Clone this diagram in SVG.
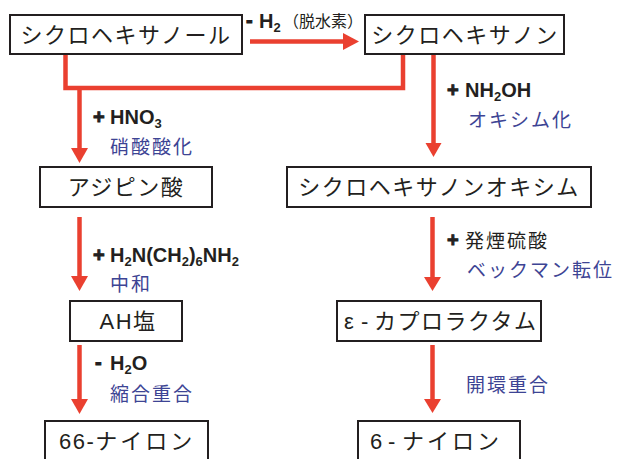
<svg xmlns="http://www.w3.org/2000/svg" width="618" height="459" viewBox="0 0 618 459">
<style>
.box{fill:#fff;stroke:#231f20;stroke-width:2}
.nt{font-family:"Liberation Sans","Noto Sans CJK JP",sans-serif;font-size:22px;fill:#231f20;text-anchor:middle;letter-spacing:1.5px}
.ns{text-anchor:start}
.bl{font-family:"Liberation Sans","Noto Sans CJK JP",sans-serif;font-size:20px;font-weight:bold;fill:#231f20}
.pl{stroke:#231f20;stroke-width:0.9}
.sub{font-size:13px}
.jp{font-family:"Noto Sans CJK JP",sans-serif;font-size:19px;fill:#231f20;letter-spacing:2px}
.blue{fill:#3d4494}
.small{font-family:"Noto Sans CJK JP",sans-serif;font-size:16px;fill:#231f20}
.ln{fill:none;stroke:#ea4030;stroke-width:4.5}
.ah{fill:#ea4030}
</style>
<g id="connectors">
<line class="ln" x1="250" y1="41.5" x2="345" y2="41.5"/>
<polygon class="ah" points="343,33 359,41.5 343,50"/>
<path class="ln" d="M65.5,54 V88 H403 V54"/>
<line class="ln" x1="79.5" y1="88" x2="79.5" y2="150"/>
<polygon class="ah" points="71,148 88,148 79.5,163"/>
<line class="ln" x1="433.5" y1="54" x2="433.5" y2="145"/>
<polygon class="ah" points="425.5,143 441.5,143 433.5,157"/>
<line class="ln" x1="79.5" y1="217" x2="79.5" y2="278"/>
<polygon class="ah" points="71,276 88,276 79.5,291"/>
<line class="ln" x1="79.5" y1="345" x2="79.5" y2="401"/>
<polygon class="ah" points="71,399 88,399 79.5,414"/>
<line class="ln" x1="432.5" y1="217" x2="432.5" y2="279"/>
<polygon class="ah" points="424,277 441,277 432.5,291"/>
<line class="ln" x1="432.5" y1="345" x2="432.5" y2="401"/>
<polygon class="ah" points="424,399 441,399 432.5,413"/>
</g>
<g id="labels">
<text class="bl pl" x="246" y="27">-</text>
<text class="bl" x="259" y="28">H<tspan class="sub" dy="4">2</tspan></text>
<text class="small" x="283" y="27">（脱水素）</text>
<text class="bl pl" x="93" y="124">+</text>
<text class="bl" x="110" y="124">HNO<tspan class="sub" dy="4">3</tspan></text>
<text class="jp blue" x="110" y="153.5">硝酸酸化</text>
<text class="bl pl" x="447" y="97">+</text>
<text class="bl" x="465" y="97">NH<tspan class="sub" dy="4">2</tspan><tspan dy="-4">OH</tspan></text>
<text class="jp blue" x="468" y="126.5">オキシム化</text>
<text class="bl pl" x="93" y="262">+</text>
<text class="bl" x="110" y="262">H<tspan class="sub" dy="4">2</tspan><tspan dy="-4">N(CH</tspan><tspan class="sub" dy="4">2</tspan><tspan dy="-4">)</tspan><tspan class="sub" dy="4">6</tspan><tspan dy="-4">NH</tspan><tspan class="sub" dy="4">2</tspan></text>
<text class="jp blue" x="110" y="290.5">中和</text>
<text class="bl pl" x="95" y="369">-</text>
<text class="bl" x="110" y="370">H<tspan class="sub" dy="4">2</tspan><tspan dy="-4">O</tspan></text>
<text class="jp blue" x="110" y="401">縮合重合</text>
<text class="bl pl" x="447" y="247">+</text>
<text class="jp" x="465" y="247.5">発煙硫酸</text>
<text class="jp blue" x="467" y="277">ベックマン転位</text>
<text class="jp blue" x="466" y="391.5">開環重合</text>
</g>
<g id="n1"><rect class="box" x="10" y="15" width="232" height="39"/><text class="nt" x="126" y="42.5">シクロヘキサノール</text></g>
<g id="n2"><rect class="box" x="365" y="15" width="199" height="39"/><text class="nt" x="465" y="42.5">シクロヘキサノン</text></g>
<g id="n3"><rect class="box" x="40" y="167" width="172" height="40"/><text class="nt" x="126" y="194.5">アジピン酸</text></g>
<g id="n4"><rect class="box" x="287" y="167" width="304" height="40"/><text class="nt" x="439" y="194.5">シクロヘキサノンオキシム</text></g>
<g id="n5"><rect class="box" x="70" y="301" width="112" height="40"/><text class="nt" x="128" y="329">AH塩</text></g>
<g id="n6"><rect class="box" x="337" y="301" width="204" height="40"/><text class="nt ns" x="344" y="329">ε<tspan x="361">-</tspan><tspan x="374">カプロラクタム</tspan></text></g>
<g id="n7"><rect class="box" x="45" y="421" width="163" height="50"/><text class="nt ns" x="59" y="449" letter-spacing="0">66-<tspan letter-spacing="3">ナイロン</tspan></text></g>
<g id="n8"><rect class="box" x="358" y="421" width="162" height="50"/><text class="nt ns" x="370" y="449">6<tspan x="388">-</tspan><tspan x="402" letter-spacing="3">ナイロン</tspan></text></g>
</svg>
